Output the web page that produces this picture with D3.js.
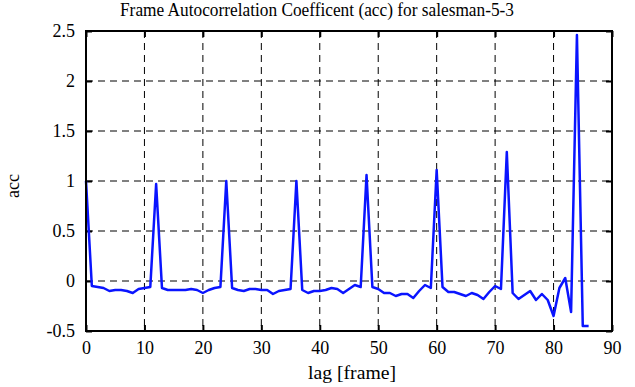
<!DOCTYPE html>
<html>
<head>
<meta charset="utf-8">
<script src="https://cdn.jsdelivr.net/npm/d3@7"></script>
<style>
  body { margin: 0; background: #fff; }
  text { font-family: "Liberation Serif", "DejaVu Serif", serif; fill: #000; }
</style>
</head>
<body>
<div id="chart"></div>
<script>
var TITLE = "Frame Autocorrelation Coefficent (acc) for salesman-5-3";
var X_LABEL = "lag [frame]";
var Y_LABEL = "acc";

var xTicks = [0, 10, 20, 30, 40, 50, 60, 70, 80, 90];
var yTicks = [-0.5, 0, 0.5, 1, 1.5, 2, 2.5];

// acc value for each lag 0..86
var acc = [
    1.00, -0.05, -0.06, -0.07, -0.10, -0.09, -0.09, -0.10, -0.12, -0.08,
    -0.07, -0.06, 0.97, -0.07, -0.09, -0.09, -0.09, -0.09, -0.08, -0.09,
    -0.12, -0.09, -0.07, -0.06, 1.00, -0.07, -0.09, -0.10, -0.08, -0.08,
    -0.09, -0.09, -0.13, -0.10, -0.09, -0.08, 1.00, -0.09, -0.12, -0.10,
    -0.10, -0.09, -0.07, -0.08, -0.12, -0.08, -0.04, -0.06, 1.06, -0.06,
    -0.08, -0.12, -0.12, -0.15, -0.13, -0.13, -0.17, -0.10, -0.04, -0.07,
    1.11, -0.06, -0.11, -0.11, -0.13, -0.15, -0.12, -0.14, -0.18, -0.11,
    -0.05, -0.08, 1.29, -0.12, -0.18, -0.14, -0.10, -0.19, -0.13, -0.19,
    -0.35, -0.07, 0.03, -0.31, 2.46, -0.45, -0.45
];

var FONT = "'Liberation Serif', 'DejaVu Serif', serif";
var WIDTH = 635, HEIGHT = 387;
var margin = {top: 31, right: 23, bottom: 56, left: 86};
var w = WIDTH - margin.left - margin.right,
    h = HEIGHT - margin.top - margin.bottom;

var svg = d3.select("#chart").append("svg")
    .attr("width", WIDTH)
    .attr("height", HEIGHT);

var g = svg.append("g")
    .attr("transform", "translate(" + margin.left + "," + margin.top + ")");

var x = d3.scaleLinear().domain([0, 90]).range([0, w]);
var y = d3.scaleLinear().domain([-0.5, 2.5]).range([h, 0]);

// dashed grid
g.append("g").selectAll("line")
    .data(xTicks.slice(1, -1)).enter().append("line")
    .attr("x1", function (d) { return x(d); })
    .attr("x2", function (d) { return x(d); })
    .attr("y1", 0).attr("y2", h)
    .attr("stroke", "#000").attr("stroke-width", 1)
    .attr("stroke-dasharray", "7,5");
g.append("g").selectAll("line")
    .data(yTicks.slice(1, -1)).enter().append("line")
    .attr("y1", function (d) { return y(d); })
    .attr("y2", function (d) { return y(d); })
    .attr("x1", 0).attr("x2", w)
    .attr("stroke", "#000").attr("stroke-width", 1)
    .attr("stroke-dasharray", "7,5");

// axes with inward ticks on every side
function styleAxis(sel) {
    sel.attr("font-family", FONT);
    sel.select(".domain").remove();
    sel.selectAll(".tick line").attr("stroke", "#000").attr("stroke-width", 2);
    sel.selectAll("text")
        .style("font-family", FONT)
        .style("font-size", "18px");
}

g.append("g")
    .attr("transform", "translate(0," + h + ")")
    .call(d3.axisBottom(x).tickValues(xTicks).tickSizeInner(-6).tickSizeOuter(0).tickPadding(10)
        .tickFormat(d3.format("d")))
    .call(styleAxis);
g.append("g")
    .call(d3.axisTop(x).tickValues(xTicks).tickSizeInner(-6).tickSizeOuter(0).tickFormat(""))
    .call(styleAxis);
g.append("g")
    .call(d3.axisLeft(y).tickValues(yTicks).tickSizeInner(-6).tickSizeOuter(0).tickPadding(11)
        .tickFormat(function (d) { return String(d); }))
    .call(styleAxis);
g.append("g")
    .attr("transform", "translate(" + w + ",0)")
    .call(d3.axisRight(y).tickValues(yTicks).tickSizeInner(-6).tickSizeOuter(0).tickFormat(""))
    .call(styleAxis);

// data line
var line = d3.line()
    .x(function (d, i) { return x(i); })
    .y(function (d) { return y(d); });

g.append("path")
    .datum(acc)
    .attr("fill", "none")
    .attr("stroke", "#0a14ff")
    .attr("stroke-width", 2.5)
    .attr("stroke-linejoin", "round")
    .attr("d", line);

// frame
g.append("rect")
    .attr("width", w).attr("height", h)
    .attr("fill", "none")
    .attr("stroke", "#000").attr("stroke-width", 2);

// labels
svg.append("text")
    .attr("x", 317).attr("y", 16)
    .attr("text-anchor", "middle")
    .attr("textLength", 394)
    .attr("lengthAdjust", "spacingAndGlyphs")
    .style("font-family", FONT)
    .style("font-size", "18px")
    .text(TITLE);

svg.append("text")
    .attr("x", margin.left + w / 2 + 3).attr("y", 379)
    .attr("text-anchor", "middle")
    .attr("textLength", 88)
    .attr("lengthAdjust", "spacingAndGlyphs")
    .style("font-family", FONT)
    .style("font-size", "19px")
    .text(X_LABEL);

svg.append("text")
    .attr("transform", "translate(19,186)rotate(-90)")
    .attr("text-anchor", "middle")
    .style("font-family", FONT)
    .style("font-size", "18px")
    .text(Y_LABEL);
</script>
</body>
</html>
